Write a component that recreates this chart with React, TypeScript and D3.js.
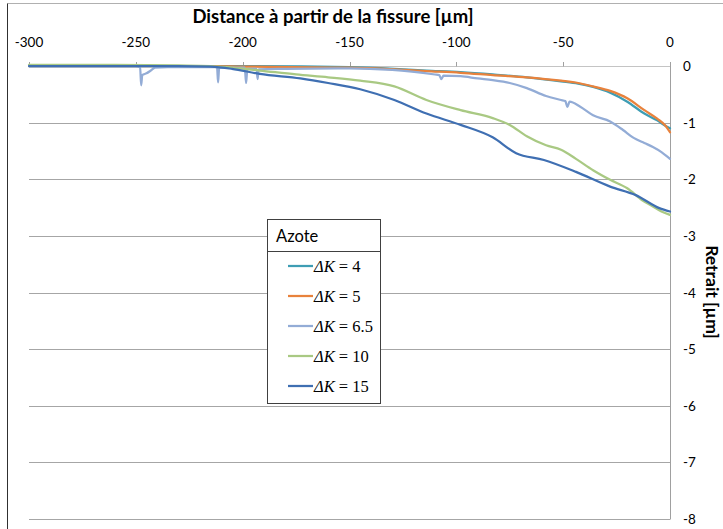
import React from "react";
import * as d3 from "d3";

const xTicks = [-300, -250, -200, -150, -100, -50, 0];
const yTicks = [0, -1, -2, -3, -4, -5, -6, -7, -8];

const labels = ["4", "5", "6.5", "10", "15"];
const colors = ["#3e9db4", "#e8823c", "#93acd6", "#a9c983", "#3f6fb2"];

const s4x = [-300, -200, -150, -129, -114, -98, -83, -67, -51, -43, -36, -28, -20, -12, -6, -2, 0];
const s4y = [0, 0, -0.02, -0.05, -0.08, -0.11, -0.15, -0.2, -0.27, -0.31, -0.37, -0.47, -0.63, -0.84, -0.96, -1.06, -1.1];

const s5x = [-300, -215, -200, -150, -129, -114, -98, -83, -67, -51, -43, -36, -28, -20, -12, -6, -2, 0];
const s5y = [0, 0, -0.01, -0.03, -0.06, -0.09, -0.12, -0.16, -0.2, -0.26, -0.3, -0.36, -0.44, -0.57, -0.78, -0.93, -1.06, -1.17];

const s65x = [-300, -250, -248, -247.5, -247, -245, -243, -241, -235, -212, -211.5, -211, -199, -198.4, -197.8, -193.5, -193, -192.5, -180, -150, -130, -110, -108, -107, -106, -98, -90, -83, -75, -67, -58, -51, -49, -48, -47, -42, -36, -28, -22, -17, -12, -8, -4, 0];
const s65y = [0, 0, -0.02, -0.34, -0.16, -0.13, -0.08, -0.03, -0.02, -0.02, -0.29, -0.03, -0.03, -0.3, -0.05, -0.05, -0.23, -0.06, -0.05, -0.04, -0.07, -0.15, -0.16, -0.23, -0.17, -0.18, -0.22, -0.25, -0.3, -0.39, -0.53, -0.6, -0.62, -0.72, -0.63, -0.72, -0.87, -0.98, -1.13, -1.27, -1.36, -1.43, -1.52, -1.64];

const s10x = [-300, -260, -230, -215, -205, -192, -175, -160, -145, -129, -114, -98, -83, -75, -67, -58, -51, -44, -36, -28, -20, -13, -8, -4, 0];
const s10y = [0.02, 0.02, 0.01, 0, -0.03, -0.08, -0.15, -0.2, -0.26, -0.36, -0.6, -0.78, -0.92, -1.04, -1.24, -1.4, -1.48, -1.64, -1.84, -2.01, -2.16, -2.37, -2.48, -2.57, -2.63];

const s15x = [-300, -260, -230, -215, -205, -192, -173, -160, -145, -129, -114, -98, -83, -72, -59, -44, -28, -16, -5, 0];
const s15y = [0, 0, 0, -0.01, -0.05, -0.14, -0.22, -0.3, -0.41, -0.6, -0.84, -1.04, -1.26, -1.54, -1.66, -1.87, -2.13, -2.28, -2.51, -2.57];

const seriesX = [s4x, s5x, s65x, s10x, s15x];
const seriesY = [s4y, s5y, s65y, s10y, s15y];

const FONT = "Lato, 'Open Sans', sans-serif";

export default function App() {
  const x = d3.scaleLinear().domain([-300, 0]).range([29, 670]);
  const y = d3.scaleLinear().domain([0, -8]).range([66, 519]);
  const line = d3
    .line<[number, number]>()
    .x((d) => x(d[0]))
    .y((d) => y(d[1]))
    .curve(d3.curveMonotoneX);

  const legendX = 267.5;
  const legendY = 219.5;
  const legendW = 113;
  const legendH = 184;

  return (
    <svg
      width={723}
      height={529}
      style={{ position: "absolute", left: 0, top: 0, background: "#fff" }}
    >
      <rect x={0} y={0} width={723} height={529} fill="#fff" />
      {/* frame */}
      <line x1={7.5} y1={3.5} x2={723} y2={3.5} stroke="#b0b0b0" />
      <line x1={7.5} y1={3.5} x2={7.5} y2={529} stroke="#303030" />

      {/* gridlines */}
      {yTicks.map((t) => (
        <line
          key={"g" + t}
          x1={x(-300)}
          x2={x(0)}
          y1={Math.round(y(t)) + 0.5}
          y2={Math.round(y(t)) + 0.5}
          stroke={t === 0 ? "#c4c4c4" : "#a6a6a6"}
          strokeWidth={1}
        />
      ))}
      {/* right axis line */}
      <line x1={x(0) + 0.5} x2={x(0) + 0.5} y1={62} y2={Math.round(y(-8)) + 0.5} stroke="#a0a0a0" />
      {/* top ticks */}
      {xTicks.map((t) => (
        <line
          key={"t" + t}
          x1={Math.round(x(t)) + 0.5}
          x2={Math.round(x(t)) + 0.5}
          y1={62}
          y2={66.5}
          stroke="#a0a0a0"
        />
      ))}
      {/* top tick labels */}
      {xTicks.map((t) => (
        <text
          key={"tl" + t}
          x={x(t)}
          y={46.5}
          textAnchor="middle"
          fontFamily={FONT}
          fontSize={13.5}
          fill="#000"
        >
          {t}
        </text>
      ))}
      {/* right tick labels */}
      {yTicks.map((t) => (
        <text
          key={"yl" + t}
          x={683}
          y={y(t) + 5}
          textAnchor="start"
          fontFamily={FONT}
          fontSize={13.5}
          fill="#000"
        >
          {t}
        </text>
      ))}
      {/* titles */}
      <text x={333} y={22.5} textAnchor="middle" fontFamily={FONT} fontWeight="bold" fontSize={18.5} fill="#000">
        Distance à partir de la fissure [µm]
      </text>
      <text
        transform={`translate(706, 292) rotate(90)`}
        textAnchor="middle"
        fontFamily={FONT}
        fontWeight="bold"
        fontSize={17.5}
        fill="#000"
      >
        Retrait [µm]
      </text>

      {/* series */}
      {seriesX.map((xs, i) => {
        const pts = xs.map((v, j) => [v, seriesY[i][j]] as [number, number]);
        return (
          <path
            key={"s" + i}
            d={line(pts) || ""}
            fill="none"
            stroke={colors[i]}
            strokeWidth={2.25}
            strokeLinejoin="round"
            strokeLinecap="round"
          />
        );
      })}

      {/* legend */}
      <rect x={legendX} y={legendY} width={legendW} height={legendH} fill="#fff" stroke="#404040" />
      <line x1={legendX} x2={legendX + legendW} y1={251.5} y2={251.5} stroke="#404040" />
      <text x={276} y={242} fontFamily={FONT} fontSize={16.5} fill="#000">
        Azote
      </text>
      {labels.map((lab, i) => {
        const ly = 266 + i * 30;
        return (
          <g key={"l" + i}>
            <line x1={288} x2={313} y1={ly} y2={ly} stroke={colors[i]} strokeWidth={2.25} />
            <text x={314} y={ly + 5.5} fontFamily="'Liberation Serif', 'DejaVu Serif', serif" fontSize={16.5} fill="#000">
              <tspan fontStyle="italic">ΔK</tspan>
              <tspan> = {lab}</tspan>
            </text>
          </g>
        );
      })}
    </svg>
  );
}
